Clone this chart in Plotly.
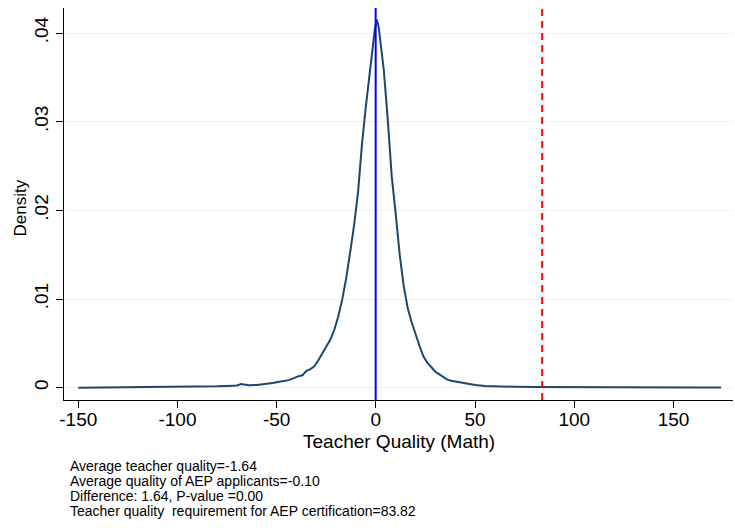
import plotly.graph_objects as go

# Kernel density of teacher quality (math)
quality = [-150, -140, -130, -120, -110, -100, -90, -80, -75, -70, -68, -64, -60, -56, -52,
           -48, -44, -41, -39, -37, -35, -33, -31, -29, -27, -25, -23, -21, -19, -17, -15,
           -13, -11, -9, -7, -5, -3, -1.5, -0.5, 0.3, 1.0, 1.5, 2.5, 4, 6, 8, 10, 12, 14,
           16, 18, 20, 22, 24, 26, 28, 30, 32, 34, 36, 38, 40, 43, 46, 50, 55, 60, 70, 80,
           90, 100, 120, 140, 160, 174]
density = [0.00000, 0.00001, 0.00002, 0.00003, 0.00005, 0.00008, 0.00012, 0.00015, 0.00020,
           0.00025, 0.00040, 0.00028, 0.00030, 0.00040, 0.00052, 0.00070, 0.00085, 0.00110,
           0.00130, 0.00140, 0.00190, 0.00210, 0.00240, 0.00310, 0.00390, 0.00460, 0.00540,
           0.00650, 0.00800, 0.00990, 0.01230, 0.01520, 0.01830, 0.02200, 0.02750, 0.03180,
           0.03600, 0.03880, 0.04050, 0.04150, 0.04110, 0.04050, 0.03850, 0.03580, 0.03020,
           0.02380, 0.01960, 0.01500, 0.01150, 0.00900, 0.00740, 0.00600, 0.00470, 0.00350,
           0.00280, 0.00230, 0.00180, 0.00150, 0.00120, 0.00090, 0.00078, 0.00070, 0.00055,
           0.00045, 0.00030, 0.00020, 0.00015, 0.00010, 0.00008, 0.00006, 0.00005, 0.00003,
           0.00002, 0.00001, 0.00001]

applicant_mean = -0.10
certification_req = 83.82

x_ticks = [-150, -100, -50, 0, 50, 100, 150]
x_tick_labels = ["-150", "-100", "-50", "0", "50", "100", "150"]
y_ticks = [0, 0.01, 0.02, 0.03, 0.04]
y_tick_labels = ["0", ".01", ".02", ".03", ".04"]

notes = [
    "Average teacher quality=-1.64",
    "Average quality of AEP applicants=-0.10",
    "Difference: 1.64, P-value =0.00",
    "Teacher quality  requirement for AEP certification=83.82",
]

FONT = "Liberation Sans, Arial, Helvetica, sans-serif"

fig = go.Figure()
fig.add_trace(go.Scatter(x=quality, y=density, mode="lines",
                         line=dict(color="#1a476f", width=2), hoverinfo="skip",
                         showlegend=False))

fig.add_vline(x=applicant_mean, line=dict(color="#0000ff", width=2), layer="above")
fig.add_vline(x=certification_req, line=dict(color="#ff0000", width=2, dash="7px,5px"),
              layer="above")

fig.update_layout(
    width=735, height=532,
    margin=dict(l=64, r=2, t=8, b=132, autoexpand=False),
    paper_bgcolor="white", plot_bgcolor="white",
    font=dict(family=FONT, color="black", size=16),
    showlegend=False,
    xaxis=dict(range=[-157.2, 180], tickvals=x_ticks, ticktext=x_tick_labels,
               showgrid=False, zeroline=False, showline=True, linecolor="black",
               linewidth=1, ticks="outside", ticklen=7, tickcolor="black",
               tickfont=dict(size=19), automargin=False, ticklabelstandoff=-5),
    yaxis=dict(range=[-0.00139, 0.04282], tickvals=y_ticks, ticktext=y_tick_labels,
               showgrid=True, gridcolor="#eaf2f3", gridwidth=1, zeroline=False,
               showline=True, linecolor="black", linewidth=1, ticks="outside",
               ticklen=7, tickcolor="black", tickangle=-90, tickfont=dict(size=19),
               automargin=False),
)

fig.add_annotation(text="Teacher Quality (Math)", xref="paper", yref="paper",
                   x=0.5, y=-0.106, xanchor="center", yanchor="middle",
                   showarrow=False, font=dict(size=19))
fig.add_annotation(text="Density", xref="paper", yref="paper",
                   x=-0.065, y=0.49, xanchor="center", yanchor="middle",
                   textangle=-90, showarrow=False, font=dict(size=17))

note_y = [-0.1684, -0.2067, -0.2450, -0.2833]
for t, yy in zip(notes, note_y):
    fig.add_annotation(text=t, xref="paper", yref="paper", x=0.006, y=yy,
                       xanchor="left", yanchor="middle", align="left",
                       showarrow=False, font=dict(size=14))

fig.write_html("out.html", config={"displayModeBar": False},
               post_script="document.body.style.margin='0';")
